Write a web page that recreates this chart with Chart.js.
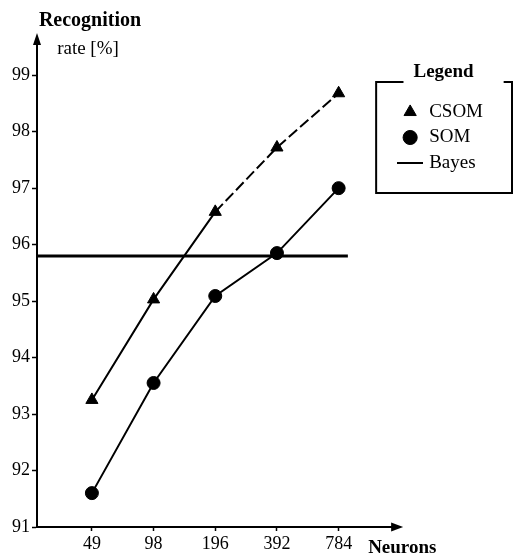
<!DOCTYPE html>
<html>
<head>
<meta charset="utf-8">
<script src="https://cdn.jsdelivr.net/npm/chart.js@4.4.0/dist/chart.umd.min.js"></script>
<style>
  html, body { margin: 0; padding: 0; background: #fff; }
  #wrap { width: 520px; height: 556px; }
</style>
</head>
<body>
<div id="wrap"><canvas id="recogChart"></canvas></div>
<script>
// values
const neurons = ['49', '98', '196', '392', '784'];
const csomRate = [93.25, 95.03, 96.58, 97.72, 98.68];
const somRate = [91.6, 93.55, 95.09, 95.85, 97.0];
const bayesRate = 95.8;
const yTicks = [91, 92, 93, 94, 95, 96, 97, 98, 99];

const SERIF = '"Liberation Serif", "Times New Roman", serif';
const X_MIN = -0.89, X_MAX = 4.9;

// little line picture for the Bayes legend entry
const bayesMark = document.createElement('canvas');
bayesMark.width = 26; bayesMark.height = 4;
const bctx = bayesMark.getContext('2d');
bctx.fillStyle = '#000';
bctx.fillRect(0, 1, 26, 2);

// axis arrows, axis titles and the frame round the legend
const decor = {
  id: 'decor',
  afterDraw(chart) {
    const { ctx, chartArea: a, legend: lg } = chart;
    ctx.save();
    ctx.fillStyle = '#000';
    ctx.strokeStyle = '#000';
    ctx.lineWidth = 2;

    // x axis runs on past the plot, then arrow
    ctx.beginPath();
    ctx.moveTo(a.right - 1, a.bottom);
    ctx.lineTo(a.right + 2, a.bottom);
    ctx.stroke();
    ctx.beginPath();
    ctx.moveTo(a.right + 9, a.bottom);
    ctx.lineTo(a.right - 3, a.bottom - 4.5);
    ctx.lineTo(a.right - 3, a.bottom + 4.5);
    ctx.closePath();
    ctx.fill();

    // y axis arrow
    ctx.beginPath();
    ctx.moveTo(a.left, a.top - 10);
    ctx.lineTo(a.left - 4, a.top + 2);
    ctx.lineTo(a.left + 4, a.top + 2);
    ctx.closePath();
    ctx.fill();

    ctx.textAlign = 'center';
    ctx.textBaseline = 'middle';
    ctx.font = 'bold 20px ' + SERIF;
    ctx.fillText('Recognition', a.left + 53, 21);
    ctx.font = '19px ' + SERIF;
    ctx.fillText('rate [%]', a.left + 51, 49);

    ctx.textAlign = 'left';
    ctx.font = 'bold 19px ' + SERIF;
    ctx.fillText('Neurons', a.right - 26, a.bottom + 21);

    // legend frame with a gap for its title
    const bx0 = lg.left - 18, bx1 = lg.right + 19;
    const by0 = lg.top + 39, by1 = lg.top + 150;
    ctx.font = 'bold 19px ' + SERIF;
    const tw = ctx.measureText('Legend').width;
    const tcx = lg.left + lg.width / 2;
    ctx.beginPath();
    ctx.moveTo(tcx - tw / 2 - 10, by0);
    ctx.lineTo(bx0, by0);
    ctx.lineTo(bx0, by1);
    ctx.lineTo(bx1, by1);
    ctx.lineTo(bx1, by0);
    ctx.lineTo(tcx + tw / 2 + 30, by0);
    ctx.stroke();
    ctx.restore();
  }
};

const ctx = document.getElementById('recogChart').getContext('2d');
const chart = new Chart(ctx, {
  type: 'line',
  data: {
    datasets: [
      {
        label: 'CSOM',
        data: csomRate.map((v, i) => ({ x: i, y: v })),
        borderColor: '#000', backgroundColor: '#000',
        borderWidth: 2,
        pointStyle: 'triangle', pointRadius: 7, pointBorderWidth: 1,
        segment: { borderDash: c => (c.p0DataIndex >= 2 ? [11, 4] : undefined) }
      },
      {
        label: 'SOM',
        data: somRate.map((v, i) => ({ x: i, y: v })),
        borderColor: '#000', backgroundColor: '#000',
        borderWidth: 2,
        pointStyle: 'circle', pointRadius: 6.5, pointBorderWidth: 1
      },
      {
        label: 'Bayes',
        data: [{ x: X_MIN, y: bayesRate }, { x: neurons.length - 1 + 0.15, y: bayesRate }],
        borderColor: '#000', backgroundColor: '#000',
        borderWidth: 3,
        pointStyle: bayesMark, pointRadius: 0
      }
    ]
  },
  options: {
    responsive: true,
    maintainAspectRatio: false,
    animation: false,
    layout: { padding: { top: 43, right: 27, bottom: 0, left: 0 } },
    scales: {
      x: {
        type: 'linear', min: X_MIN, max: X_MAX,
        afterBuildTicks: s => { s.ticks = neurons.map((_, i) => ({ value: i })); },
        afterFit: s => { s.height = 29; },
        ticks: {
          callback: v => neurons[v] ?? '',
          color: '#000', font: { family: SERIF, size: 18 }, padding: 2, maxRotation: 0
        },
        grid: { drawOnChartArea: false, color: '#000', tickLength: 4, tickWidth: 1.5 },
        border: { color: '#000', width: 2 }
      },
      y: {
        type: 'linear', min: 91, max: 99.57,
        afterBuildTicks: s => { s.ticks = yTicks.map(v => ({ value: v })); },
        afterFit: s => { s.width = 37; },
        ticks: { color: '#000', font: { family: SERIF, size: 18 }, padding: 2 },
        grid: { drawOnChartArea: false, color: '#000', tickLength: 5, tickWidth: 1.5 },
        border: { color: '#000', width: 2 }
      }
    },
    plugins: {
      tooltip: { enabled: false },
      legend: {
        position: 'right', align: 'start',
        title: {
          display: true, text: 'Legend', color: '#000',
          font: { family: SERIF, size: 19, weight: 'bold' },
          padding: { top: 19.5, bottom: 10.7 }
        },
        labels: {
          usePointStyle: true, boxWidth: 19, boxHeight: 10, padding: 6.5,
          color: '#000', font: { family: SERIF, size: 19 }
        }
      }
    }
  },
  plugins: [decor]
});
</script>
</body>
</html>
